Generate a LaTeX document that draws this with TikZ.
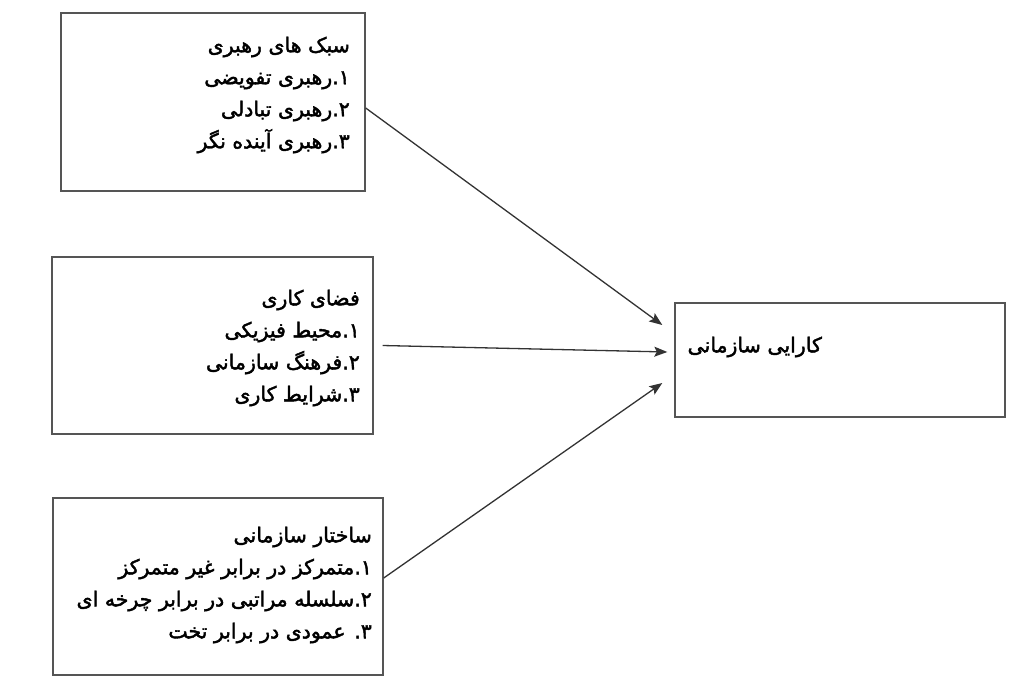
\documentclass[tikz,border=0pt]{standalone}
\usepackage{fontspec}
\usepackage{tikz}
\usetikzlibrary{arrows.meta}
\TeXXeTstate=1
\newfontfamily\arabicfont[Script=Arabic,FakeBold=2]{DejaVu Sans}
\newcommand{\rtl}[1]{\beginR #1\endR}
\definecolor{boxgray}{HTML}{555555}
\definecolor{linegray}{HTML}{333333}

\begin{document}
\begin{tikzpicture}[x=1pt,y=-1pt,
    box/.style={draw=boxgray,line width=1.4pt,inner sep=0pt},
    txt/.style={font=\arabicfont\fontsize{20.5}{32}\selectfont,align=right,inner sep=0pt,anchor=east},
    link/.style={draw=linegray,line width=1.3pt,-{Stealth[length=13pt,width=10pt,inset=2.5pt]}}]
    \useasboundingbox (0,0) rectangle (1024,694);
    % boxes
    \node [box,minimum width=304,minimum height=178] (lead) at (213,102) {};
    \node [box,minimum width=321,minimum height=177] (env) at (212.5,345.5) {};
    \node [box,minimum width=330,minimum height=177] (struct) at (218,586.5) {};
    \node [box,minimum width=330,minimum height=114] (perf) at (840,360) {};
    % texts
    \node [txt] (lead text) at (350,95) {\rtl{سبک های رهبری}\\ \rtl{۱.رهبری تفویضی}\\ \rtl{۲.رهبری تبادلی}\\ \rtl{۳.رهبری آینده نگر}};
    \node [txt] (env text) at (360,348) {\rtl{فضای کاری}\\ \rtl{۱.محیط فیزیکی}\\ \rtl{۲.فرهنگ سازمانی}\\ \rtl{۳.شرایط کاری}};
    \node [txt] (struct text) at (372,585) {\rtl{ساختار سازمانی}\\ \rtl{۱.متمرکز در برابر غیر متمرکز}\\ \rtl{۲.سلسله مراتبی در برابر چرخه ای}\\ \rtl{۳. عمودی در برابر تخت}};
    \node [txt] (perf text) at (822,347) {\rtl{کارایی سازمانی}};
    % arrows
    \draw [link] ([yshift=-6pt]lead.east) -- ([xshift=-12pt,yshift=35pt]perf.west);
    \draw [link] ([xshift=9pt]env.east) -- ([xshift=-7pt,yshift=8pt]perf.west);
    \draw [link] ([yshift=8.5pt]struct.east) -- ([xshift=-12pt,yshift=-23pt]perf.west);
\end{tikzpicture}
\end{document}
